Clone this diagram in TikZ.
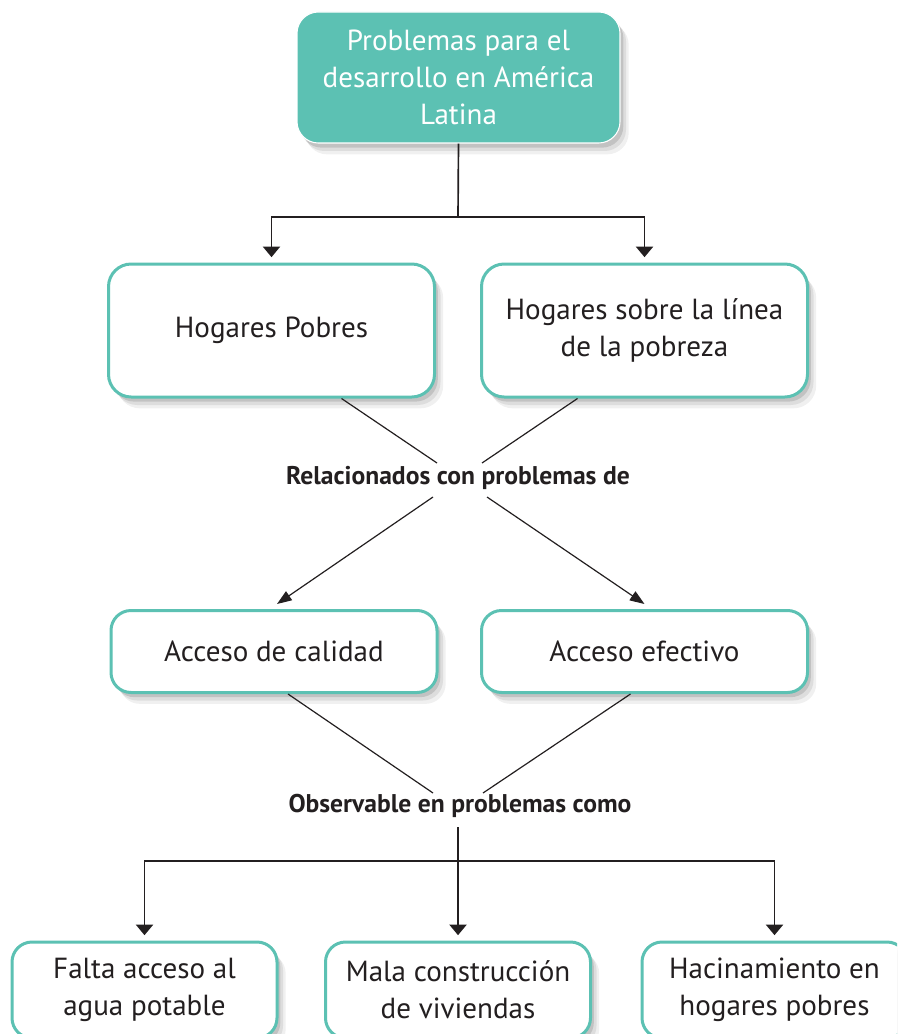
\documentclass[tikz,border=0pt]{standalone}
\usepackage{xcolor}
\usepackage{fontspec}
\setmainfont{PT Sans}
\usepackage{tikz}
\usetikzlibrary{arrows.meta,calc,shadows}

\definecolor{verdeagua}{RGB}{92,193,179}
\definecolor{tinta}{RGB}{35,31,32}

\tikzset{
  sombra/.style={
    drop shadow={shadow xshift=2.5pt,shadow yshift=-3.5pt,opacity=.12,fill=black,draw=none},
    drop shadow={shadow xshift=4.5pt,shadow yshift=-6pt,opacity=.08,fill=black,draw=none},
    drop shadow={shadow xshift=6.5pt,shadow yshift=-8.5pt,opacity=.06,fill=black,draw=none}},
  cajaverde/.style={sombra,fill=verdeagua,draw=white,line width=0.8pt,rounded corners=16pt,
    minimum width=242.25pt,minimum height=98.25pt,align=center,text=white,
    font=\fontsize{21.8}{27.5}\selectfont},
  caja/.style={sombra,fill=white,draw=verdeagua,line width=2.25pt,rounded corners=17pt,
    minimum width=244.5pt,minimum height=99.75pt,align=center,text=tinta,
    font=\fontsize{21.8}{27.5}\selectfont},
  cajabaja/.style={caja,minimum height=61.5pt,rounded corners=15pt},
  cajafinal/.style={caja,minimum width=198.75pt,minimum height=72pt,rounded corners=15pt},
  etiqueta/.style={text=tinta,inner sep=1pt,font=\bfseries\fontsize{19.2}{22}\selectfont},
  linea/.style={draw=tinta,line width=1.25pt},
  lineafina/.style={draw=tinta,line width=0.9pt},
  flecha/.style={linea,-{Triangle[width=13pt,length=8pt]},shorten >=4pt},
  flechadiag/.style={lineafina,-{Triangle[width=8pt,length=11pt]}}
}

\begin{document}
\begin{tikzpicture}[x=0.75pt,y=0.75pt,yscale=-1,xscale=1]
\useasboundingbox (0,0) rectangle (897,1034);
\clip (0,0) rectangle (897,1034);

% Text Node
\draw (458.5,77.5) node [cajaverde] (prob) {Problemas para el\\desarrollo en América\\Latina};

% Text Node
\draw (271.5,330.5) node [caja] (hpob) {Hogares Pobres};
% Text Node
\draw (644.5,330.5) node [caja] (hsob) {Hogares sobre la línea\\de la pobreza};

% Text Node
\draw (458,478) node [etiqueta] (rel) {Relacionados con problemas de};

% Text Node
\draw (274,651.5) node [cajabaja] (acal) {Acceso de calidad};
% Text Node
\draw (644.5,651.5) node [cajabaja] (aefe) {Acceso efectivo};

% Text Node
\draw (460,806) node [etiqueta] (obs) {Observable en problemas como};

% Text Node
\draw (144.5,990) node [cajafinal] (falt) {Falta acceso al\\agua potable};
% Text Node
\draw (458,990) node [cajafinal] (mala) {Mala construcción\\de viviendas};
% Text Node
\draw (774.5,990) node [cajafinal] (haci) {Hacinamiento en\\hogares pobres};

%Straight Lines
\coordinate (r1) at (458,217);
\draw [linea] (prob.south) -- (r1);
\draw [flecha] (r1) -| (hpob.north);
\draw [flecha] (r1) -| (hsob.north);

%Straight Lines
\draw [lineafina] ($(hpob.south)+(70,0)$) -- ($(rel)+(-21,-15)$);
\draw [lineafina] ($(hsob.south)+(-67,0)$) -- ($(rel)+(24,-15)$);
\draw [flechadiag] ($(rel)+(-25,19)$) -- ($(acal.north)+(3,-5)$);
\draw [flechadiag] ($(rel)+(29,19)$) -- ($(aefe.north)+(0,-5)$);

%Straight Lines
\draw [lineafina] ($(acal.south)+(14,0)$) -- ($(obs)+(-27,-13)$);
\draw [lineafina] ($(aefe.south)+(-14,0)$) -- ($(obs)+(23,-13)$);

%Straight Lines
\coordinate (r2) at (458,861);
\draw [flecha] ($(obs.south -| mala.north)+(0,8)$) -- (mala.north);
\draw [flecha] (r2) -| (falt.north);
\draw [flecha] (r2) -| (haci.north);

\end{tikzpicture}
\end{document}
